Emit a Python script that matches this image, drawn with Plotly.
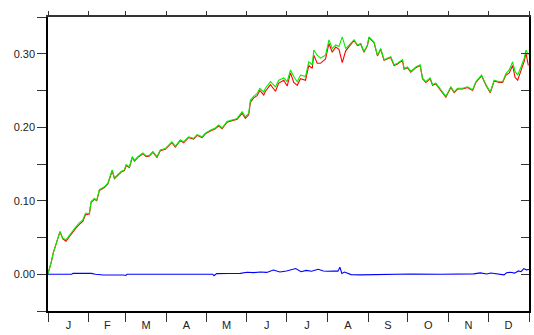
import plotly.graph_objects as go

# ---- data (day of year) ----
day = [0, 2.3, 4, 7.4, 9.1, 11.2, 13.7, 16.2, 18.8, 21.3,
       23.8, 26.4, 28.4, 31.4, 32.7, 35.2, 37, 39, 42.8, 45.4,
       47.1, 48.7, 50.4, 53, 55.5, 58, 59.3, 61.8, 63.9, 65.6,
       68.2, 72, 74.5, 77, 79.6, 82.7, 85.2, 89, 91.5, 94,
       96.6, 100.4, 102.9, 106.7, 110.5, 113.1, 116.9, 119.4, 123.2, 127,
       129.5, 132.1, 135.9, 139.7, 143.5, 147.3, 149.8, 152.3, 153.6, 156.1,
       158.7, 160.7, 163.7, 165, 168.8, 172.6, 175.1, 178.9, 181.5, 184,
       186.5, 189.1, 191.6, 195.4, 197.9, 200.5, 201.7, 204.3, 206.8, 210.6,
       213.2, 215.7, 218.3, 220.8, 223.3, 225.9, 228.4, 232.2, 234.8, 237.3,
       239.8, 242.4, 243.6, 247.4, 250, 252.5, 255, 257.6, 260.1, 262.6,
       265.2, 269, 270.2, 272.8, 275.3, 279.1, 282.4, 284.2, 286.7, 290,
       291.8, 294.3, 298.1, 301.9, 305.7, 308.2, 310.8, 314.6, 318.4, 322.2,
       324.7, 329, 332.3, 335.6, 338.6, 342.4, 345, 347.5, 350, 352.6,
       354.4, 356.4, 358.9, 361.4, 362.7, 364.5]

green = [0.001, 0.015, 0.029, 0.047, 0.058, 0.049, 0.047, 0.053, 0.060, 0.065,
         0.070, 0.074, 0.083, 0.083, 0.099, 0.103, 0.101, 0.115, 0.119, 0.124,
         0.133, 0.142, 0.131, 0.135, 0.140, 0.142, 0.149, 0.146, 0.160, 0.155,
         0.160, 0.165, 0.161, 0.162, 0.167, 0.160, 0.169, 0.171, 0.176, 0.180,
         0.174, 0.183, 0.180, 0.187, 0.185, 0.190, 0.187, 0.192, 0.196, 0.199,
         0.203, 0.199, 0.208, 0.210, 0.212, 0.221, 0.214, 0.219, 0.237, 0.242,
         0.246, 0.253, 0.248, 0.253, 0.262, 0.255, 0.264, 0.267, 0.262, 0.278,
         0.269, 0.262, 0.271, 0.269, 0.289, 0.285, 0.305, 0.298, 0.294, 0.298,
         0.319, 0.307, 0.312, 0.310, 0.323, 0.307, 0.312, 0.319, 0.312, 0.314,
         0.303, 0.312, 0.323, 0.316, 0.298, 0.307, 0.292, 0.294, 0.296, 0.285,
         0.287, 0.292, 0.280, 0.282, 0.276, 0.282, 0.285, 0.267, 0.262, 0.267,
         0.258, 0.260, 0.251, 0.242, 0.255, 0.248, 0.253, 0.253, 0.255, 0.251,
         0.262, 0.271, 0.258, 0.248, 0.264, 0.262, 0.262, 0.273, 0.278, 0.289,
         0.276, 0.271, 0.282, 0.294, 0.305, 0.298]

red = [0.001, 0.015, 0.029, 0.047, 0.058, 0.048, 0.045, 0.051, 0.058, 0.063,
       0.068, 0.072, 0.081, 0.082, 0.098, 0.102, 0.100, 0.114, 0.118, 0.123,
       0.132, 0.141, 0.130, 0.134, 0.139, 0.141, 0.148, 0.145, 0.159, 0.154,
       0.159, 0.164, 0.160, 0.161, 0.166, 0.159, 0.168, 0.170, 0.175, 0.179,
       0.173, 0.182, 0.179, 0.186, 0.184, 0.189, 0.186, 0.191, 0.195, 0.198,
       0.202, 0.198, 0.207, 0.209, 0.211, 0.219, 0.212, 0.217, 0.234, 0.240,
       0.243, 0.250, 0.244, 0.249, 0.258, 0.249, 0.260, 0.264, 0.256, 0.274,
       0.261, 0.257, 0.266, 0.264, 0.284, 0.280, 0.298, 0.287, 0.287, 0.293,
       0.314, 0.302, 0.309, 0.306, 0.288, 0.304, 0.310, 0.318, 0.311, 0.313,
       0.302, 0.311, 0.322, 0.315, 0.297, 0.306, 0.291, 0.293, 0.295, 0.284,
       0.286, 0.291, 0.279, 0.281, 0.275, 0.281, 0.284, 0.266, 0.261, 0.266,
       0.257, 0.259, 0.250, 0.241, 0.254, 0.247, 0.252, 0.252, 0.254, 0.250,
       0.261, 0.270, 0.257, 0.247, 0.263, 0.261, 0.261, 0.271, 0.274, 0.284,
       0.268, 0.264, 0.277, 0.290, 0.301, 0.284]

blue_day = [0, 18, 19, 33, 36, 42, 57, 59, 60, 100,
            125, 126, 128, 137, 146, 151, 156, 161, 166, 171,
            176, 181, 188, 192, 196, 200, 205, 209, 212, 217,
            220, 221.5, 223, 225, 230, 237, 247, 260, 275, 298,
            315, 323, 328, 333, 336, 340, 346, 348, 351, 354,
            357, 359, 361, 363, 365]
blue = [0, 0, 0.0012, 0.0012, 0, -0.001, -0.001, -0.0016, 0, 0,
        0, -0.002, 0.0008, 0.001, 0.0012, 0.0027, 0.0022, 0.003, 0.0025, 0.0058,
        0.003, 0.0045, 0.0077, 0.0035, 0.0052, 0.004, 0.0068, 0.0045, 0.004, 0.0045,
        0.0042, 0.0095, 0.001, 0.003, -0.0005, -0.0008, -0.0005, 0, 0.0003, 0,
        0.0002, 0.0005, 0.0018, 0.0003, 0.0016, 0.0005, -0.0008, 0.002, 0.0027, 0.0015,
        0.0045, 0.0035, 0.0077, 0.006, 0.0064]

month_labels = ["J", "F", "M", "A", "M", "J", "J", "A", "S", "O", "N", "D"]
month_starts = [0, 31, 59, 90, 120, 151, 181, 212, 243, 273, 304, 334, 365]
y_ticks = [0.0, 0.1, 0.2, 0.3]
y_tick_text = ["0.00", "0.10", "0.20", "0.30"]

assert len(day) == len(green) == len(red)
assert len(blue_day) == len(blue)

month_mids = [(month_starts[i] + month_starts[i + 1]) / 2 for i in range(12)]
YR = [-0.05, 0.35]
XR = [0, 365]
font = dict(family="Liberation Sans, Arial, sans-serif", size=11, color="#222")

fig = go.Figure()
fig.add_trace(go.Scatter(x=day, y=red, mode="lines",
                         line=dict(color="#ff0000", width=1.1), showlegend=False))
fig.add_trace(go.Scatter(x=day, y=green, mode="lines",
                         line=dict(color="#00ee00", width=1.1), showlegend=False))
fig.add_trace(go.Scatter(x=blue_day, y=blue, mode="lines",
                         line=dict(color="#0000ff", width=1.1), showlegend=False))
fig.add_trace(go.Scatter(x=[None], y=[None], xaxis="x2", yaxis="y2",
                         showlegend=False, hoverinfo="skip"))

fig.update_layout(
    width=534, height=335,
    margin=dict(l=48, r=5, t=17, b=24, autoexpand=False),
    paper_bgcolor="white", plot_bgcolor="white",
    font=font,
    xaxis=dict(range=XR, tickmode="array", tickvals=month_mids, ticktext=month_labels,
               ticks="outside", ticklen=3, tickcolor="rgba(0,0,0,0)",
               showline=True, linecolor="black", linewidth=1.5, automargin=False,
               showgrid=False, zeroline=False, tickfont=font,
               minor=dict(tickmode="array", tickvals=month_starts, ticks="outside",
                          ticklen=9, tickcolor="#333", tickwidth=1.3, showgrid=False)),
    yaxis=dict(range=YR, tickmode="array", tickvals=y_ticks, ticktext=y_tick_text,
               ticks="outside", ticklen=9, tickcolor="#333", tickwidth=1.3,
               showline=True, linecolor="black", linewidth=1.5, automargin=False,
               showgrid=False, zeroline=False, tickfont=font,
               minor=dict(tickmode="array", tickvals=[-0.05, 0.05, 0.15, 0.25, 0.35],
                          ticks="outside", ticklen=9, tickcolor="#333", tickwidth=1.3,
                          showgrid=False)),
    xaxis2=dict(overlaying="x", side="top", range=XR, tickmode="array",
                tickvals=month_starts, ticks="outside", ticklen=4, tickcolor="#333",
                tickwidth=1.3, showticklabels=False, showline=True, linecolor="#333",
                linewidth=1.5, showgrid=False, zeroline=False, automargin=False),
    yaxis2=dict(overlaying="y", side="right", range=YR, tickmode="array",
                tickvals=[0, 0.05, 0.1, 0.15, 0.2, 0.25, 0.3], ticks="inside",
                ticklen=8, tickcolor="#333", tickwidth=1.3, showticklabels=False,
                showline=True, linecolor="black", linewidth=1.5,
                showgrid=False, zeroline=False, automargin=False),
)

fig.write_html("out.html", config={"displayModeBar": False},
               post_script="document.body.style.margin='0';document.body.style.padding='0';")
